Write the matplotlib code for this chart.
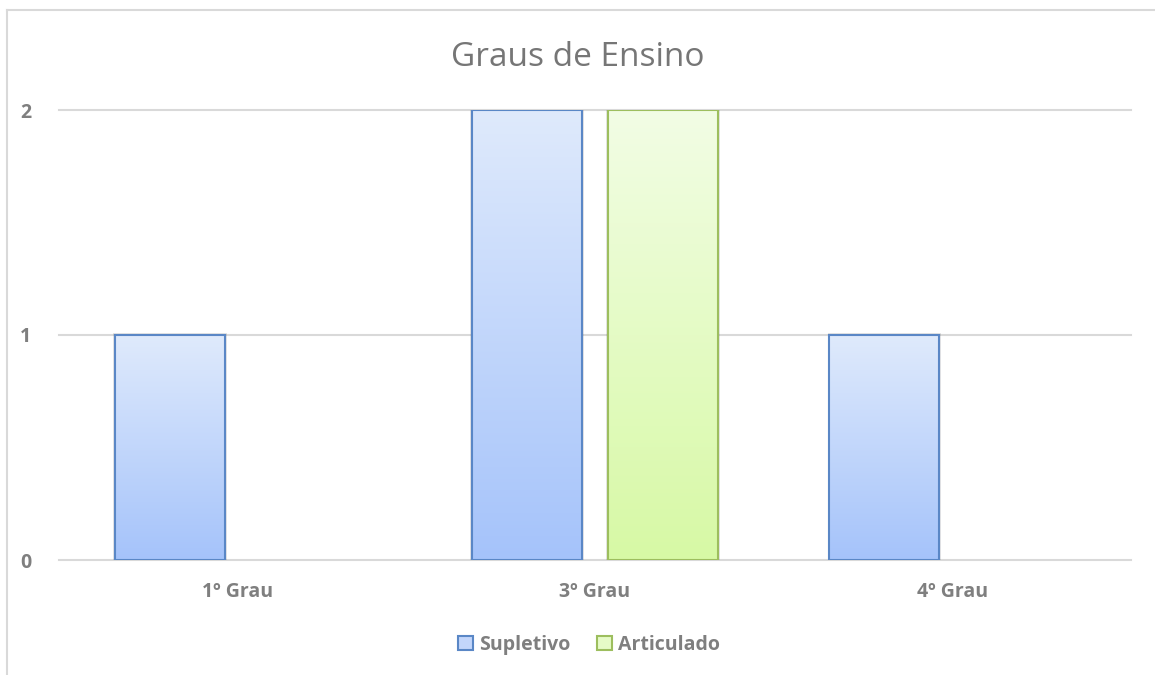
import matplotlib
matplotlib.use("Agg")
import matplotlib.pyplot as plt
import numpy as np
from matplotlib.patches import Patch
from matplotlib.colors import LinearSegmentedColormap
from matplotlib.lines import Line2D

categories = ["1º Grau", "3º Grau", "4º Grau"]
supletivo = [1, 2, 1]
articulado = [0, 2, 0]
series_names = ["Supletivo", "Articulado"]
title = "Graus de Ensino"
yticks = [0, 1, 2]

plt.rcParams['font.family'] = ['Open Sans', 'DejaVu Sans']

W, H = 1155, 675
fig = plt.figure(figsize=(W/100, H/100), dpi=100)
ax = fig.add_axes([59/W, 1-560/H, (1131-59)/W, (560-110)/H])

x = np.arange(len(categories))
bw = 0.308
off = 0.19

blue_edge = "#5A87C6"
green_edge = "#9DBE5E"
blue_cmap = LinearSegmentedColormap.from_list("b", ["#A5C3FA", "#DFEAFC"])
green_cmap = LinearSegmentedColormap.from_list("g", ["#D7F9A5", "#F2FDE5"])

ax.set_xlim(-0.5, len(categories)-0.5)
ax.set_ylim(0, 2)

grad = np.linspace(0, 1, 256).reshape(-1, 1)

def gradient_bars(vals, pos, cmap, edge):
    bars = ax.bar(pos, vals, bw, facecolor="none", edgecolor=edge, linewidth=1.5, zorder=4)
    for b in bars:
        h = b.get_height()
        if h <= 0:
            b.set_visible(False)
            continue
        x0 = b.get_x(); w = b.get_width()
        ax.add_patch(plt.Rectangle((x0 - 0.005, 0), w + 0.010, h + 0.008,
                                   facecolor="#000000", alpha=0.10, edgecolor="none", zorder=2))
        im = ax.imshow(grad, extent=[x0, x0 + w, 0, h], origin="lower", cmap=cmap,
                       aspect="auto", zorder=3)
        im.set_clip_path(b)
    return bars

gradient_bars(supletivo, x - off, blue_cmap, blue_edge)
gradient_bars(articulado, x + off, green_cmap, green_edge)
ax.set_xlim(-0.5, len(categories)-0.5)
ax.set_ylim(0, 2)

for v in yticks:
    ax.axhline(v, color="#D9D9D9", linewidth=1.5, zorder=1, clip_on=False)

for s in ax.spines.values():
    s.set_visible(False)

ax.set_yticks(yticks)
ax.set_yticklabels([str(v) for v in yticks], fontsize=14, fontweight="bold", color="#7F7F7F")
ax.set_xticks(x)
ax.set_xticklabels(categories, fontsize=14, fontweight="bold", color="#7F7F7F")
ax.tick_params(axis="both", length=0)
ax.tick_params(axis="y", pad=20)
ax.tick_params(axis="x", pad=16)

fig.text(0.5, 1-57/H, title, ha="center", va="center", fontsize=24, color="#767676")

handles = [Patch(facecolor="#C3D6FB", edgecolor=blue_edge, linewidth=1.5),
           Patch(facecolor="#E6FBC7", edgecolor=green_edge, linewidth=1.5)]
fig.legend(handles, series_names, loc="center", bbox_to_anchor=(589/W, 1-645/H), ncol=2,
           frameon=False, handlelength=0.75, handleheight=0.75, handletextpad=0.3,
           columnspacing=1.4, prop={"size": 14, "weight": "bold"}, labelcolor="#7F7F7F")

fig.add_artist(Line2D([7/W, 7/W], [0, 1-10/H], color="#D9D9D9", linewidth=1.5, transform=fig.transFigure))
fig.add_artist(Line2D([7/W, 1], [1-10/H, 1-10/H], color="#D9D9D9", linewidth=1.5, transform=fig.transFigure))

fig.savefig("out.png", dpi=100)
